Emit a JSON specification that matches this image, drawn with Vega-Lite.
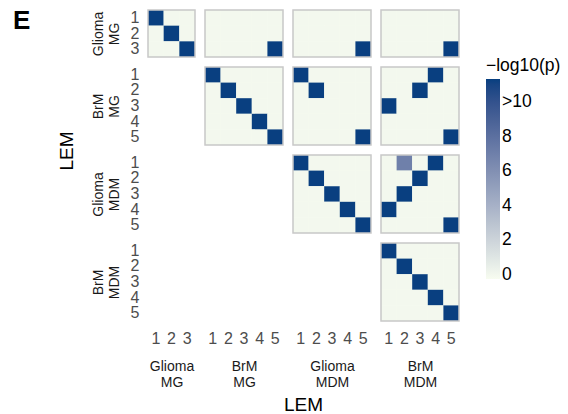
{
"$schema": "https://vega.github.io/schema/vega-lite/v6.json",
"padding": {"left": 12, "top": 7, "right": 5, "bottom": 5},
"datasets": {
"GMG_GMG": [{"i":1,"j":1,"v":11.3},{"i":1,"j":2,"v":0},{"i":1,"j":3,"v":0},{"i":2,"j":1,"v":0},{"i":2,"j":2,"v":11.3},{"i":2,"j":3,"v":0},{"i":3,"j":1,"v":0},{"i":3,"j":2,"v":0},{"i":3,"j":3,"v":11.3}],
"GMG_BMG": [{"i":1,"j":1,"v":0},{"i":1,"j":2,"v":0},{"i":1,"j":3,"v":0},{"i":1,"j":4,"v":0},{"i":1,"j":5,"v":0},{"i":2,"j":1,"v":0},{"i":2,"j":2,"v":0},{"i":2,"j":3,"v":0},{"i":2,"j":4,"v":0},{"i":2,"j":5,"v":0},{"i":3,"j":1,"v":0},{"i":3,"j":2,"v":0},{"i":3,"j":3,"v":0},{"i":3,"j":4,"v":0},{"i":3,"j":5,"v":11.3}],
"GMG_GMDM": [{"i":1,"j":1,"v":0},{"i":1,"j":2,"v":0},{"i":1,"j":3,"v":0},{"i":1,"j":4,"v":0},{"i":1,"j":5,"v":0},{"i":2,"j":1,"v":0},{"i":2,"j":2,"v":0},{"i":2,"j":3,"v":0},{"i":2,"j":4,"v":0},{"i":2,"j":5,"v":0},{"i":3,"j":1,"v":0},{"i":3,"j":2,"v":0},{"i":3,"j":3,"v":0},{"i":3,"j":4,"v":0},{"i":3,"j":5,"v":11.3}],
"GMG_BMDM": [{"i":1,"j":1,"v":0},{"i":1,"j":2,"v":0},{"i":1,"j":3,"v":0},{"i":1,"j":4,"v":0},{"i":1,"j":5,"v":0},{"i":2,"j":1,"v":0},{"i":2,"j":2,"v":0},{"i":2,"j":3,"v":0},{"i":2,"j":4,"v":0},{"i":2,"j":5,"v":0},{"i":3,"j":1,"v":0},{"i":3,"j":2,"v":0},{"i":3,"j":3,"v":0},{"i":3,"j":4,"v":0},{"i":3,"j":5,"v":11.3}],
"BMG_BMG": [{"i":1,"j":1,"v":11.3},{"i":1,"j":2,"v":0},{"i":1,"j":3,"v":0},{"i":1,"j":4,"v":0},{"i":1,"j":5,"v":0},{"i":2,"j":1,"v":0},{"i":2,"j":2,"v":11.3},{"i":2,"j":3,"v":0},{"i":2,"j":4,"v":0},{"i":2,"j":5,"v":0},{"i":3,"j":1,"v":0},{"i":3,"j":2,"v":0},{"i":3,"j":3,"v":11.3},{"i":3,"j":4,"v":0},{"i":3,"j":5,"v":0},{"i":4,"j":1,"v":0},{"i":4,"j":2,"v":0},{"i":4,"j":3,"v":0},{"i":4,"j":4,"v":11.3},{"i":4,"j":5,"v":0},{"i":5,"j":1,"v":0},{"i":5,"j":2,"v":0},{"i":5,"j":3,"v":0},{"i":5,"j":4,"v":0},{"i":5,"j":5,"v":11.3}],
"BMG_GMDM": [{"i":1,"j":1,"v":11.3},{"i":1,"j":2,"v":0},{"i":1,"j":3,"v":0},{"i":1,"j":4,"v":0},{"i":1,"j":5,"v":0},{"i":2,"j":1,"v":0},{"i":2,"j":2,"v":11.3},{"i":2,"j":3,"v":0},{"i":2,"j":4,"v":0},{"i":2,"j":5,"v":0},{"i":3,"j":1,"v":0},{"i":3,"j":2,"v":0},{"i":3,"j":3,"v":0},{"i":3,"j":4,"v":0},{"i":3,"j":5,"v":0},{"i":4,"j":1,"v":0},{"i":4,"j":2,"v":0},{"i":4,"j":3,"v":0},{"i":4,"j":4,"v":0},{"i":4,"j":5,"v":0},{"i":5,"j":1,"v":0},{"i":5,"j":2,"v":0},{"i":5,"j":3,"v":0},{"i":5,"j":4,"v":0},{"i":5,"j":5,"v":11.3}],
"BMG_BMDM": [{"i":1,"j":1,"v":0},{"i":1,"j":2,"v":0},{"i":1,"j":3,"v":0},{"i":1,"j":4,"v":11.3},{"i":1,"j":5,"v":0},{"i":2,"j":1,"v":0},{"i":2,"j":2,"v":0},{"i":2,"j":3,"v":11.3},{"i":2,"j":4,"v":0},{"i":2,"j":5,"v":0},{"i":3,"j":1,"v":11.3},{"i":3,"j":2,"v":0},{"i":3,"j":3,"v":0},{"i":3,"j":4,"v":0},{"i":3,"j":5,"v":0},{"i":4,"j":1,"v":0},{"i":4,"j":2,"v":0},{"i":4,"j":3,"v":0},{"i":4,"j":4,"v":0},{"i":4,"j":5,"v":0},{"i":5,"j":1,"v":0},{"i":5,"j":2,"v":0},{"i":5,"j":3,"v":0},{"i":5,"j":4,"v":0},{"i":5,"j":5,"v":11.3}],
"GMDM_GMDM": [{"i":1,"j":1,"v":11.3},{"i":1,"j":2,"v":0},{"i":1,"j":3,"v":0},{"i":1,"j":4,"v":0},{"i":1,"j":5,"v":0},{"i":2,"j":1,"v":0},{"i":2,"j":2,"v":11.3},{"i":2,"j":3,"v":0},{"i":2,"j":4,"v":0},{"i":2,"j":5,"v":0},{"i":3,"j":1,"v":0},{"i":3,"j":2,"v":0},{"i":3,"j":3,"v":11.3},{"i":3,"j":4,"v":0},{"i":3,"j":5,"v":0},{"i":4,"j":1,"v":0},{"i":4,"j":2,"v":0},{"i":4,"j":3,"v":0},{"i":4,"j":4,"v":11.3},{"i":4,"j":5,"v":0},{"i":5,"j":1,"v":0},{"i":5,"j":2,"v":0},{"i":5,"j":3,"v":0},{"i":5,"j":4,"v":0},{"i":5,"j":5,"v":11.3}],
"GMDM_BMDM": [{"i":1,"j":1,"v":0},{"i":1,"j":2,"v":7},{"i":1,"j":3,"v":0},{"i":1,"j":4,"v":11.3},{"i":1,"j":5,"v":0},{"i":2,"j":1,"v":0},{"i":2,"j":2,"v":0},{"i":2,"j":3,"v":11.3},{"i":2,"j":4,"v":0},{"i":2,"j":5,"v":0},{"i":3,"j":1,"v":0},{"i":3,"j":2,"v":11.3},{"i":3,"j":3,"v":0},{"i":3,"j":4,"v":0},{"i":3,"j":5,"v":0},{"i":4,"j":1,"v":11.3},{"i":4,"j":2,"v":0},{"i":4,"j":3,"v":0},{"i":4,"j":4,"v":0},{"i":4,"j":5,"v":0},{"i":5,"j":1,"v":0},{"i":5,"j":2,"v":0},{"i":5,"j":3,"v":0},{"i":5,"j":4,"v":0},{"i":5,"j":5,"v":11.3}],
"BMDM_BMDM": [{"i":1,"j":1,"v":11.3},{"i":1,"j":2,"v":0},{"i":1,"j":3,"v":0},{"i":1,"j":4,"v":0},{"i":1,"j":5,"v":0},{"i":2,"j":1,"v":0},{"i":2,"j":2,"v":11.3},{"i":2,"j":3,"v":0},{"i":2,"j":4,"v":0},{"i":2,"j":5,"v":0},{"i":3,"j":1,"v":0},{"i":3,"j":2,"v":0},{"i":3,"j":3,"v":11.3},{"i":3,"j":4,"v":0},{"i":3,"j":5,"v":0},{"i":4,"j":1,"v":0},{"i":4,"j":2,"v":0},{"i":4,"j":3,"v":0},{"i":4,"j":4,"v":11.3},{"i":4,"j":5,"v":0},{"i":5,"j":1,"v":0},{"i":5,"j":2,"v":0},{"i":5,"j":3,"v":0},{"i":5,"j":4,"v":0},{"i":5,"j":5,"v":11.3}]
},
"config": {
 "font": "Liberation Sans",
 "view": {"stroke": "#c8c8c8", "strokeWidth": 1.5, "fill": "#f7fcf0"},
 "style": {"cell": {"strokeForeground": true}},
 "axis": {"ticks": false, "domain": false, "grid": false, "labelFontSize": 16, "labelColor": "#4d4d4d", "titleFontSize": 14, "titleFontWeight": "normal", "titleColor": "#1a1a1a", "titleLineHeight": 16},
 "title": {"fontWeight": "normal", "color": "black", "fontSize": 19},
 "legend": {"orient": "none", "legendX": 338, "legendY": 47, "direction": "vertical", "gradientLength": 200, "gradientThickness": 14, "gradientStrokeWidth": 0, "titleFontSize": 17.5, "titleFontWeight": "normal", "titleColor": "black", "labelFontSize": 17.5, "labelColor": "black", "labelOffset": 9, "titlePadding": 4.5}
},
"columns": 4,
"spacing": 10,
"bounds": "flush",
"concat": [
 {"width": 47, "height": 47, "data": {"name": "GMG_GMG"}, "mark": "rect",
  "title": {"text": "E", "orient": "top", "anchor": "start", "frame": "group", "baseline": "top", "offset": -25, "dx": -135, "fontSize": 26, "fontWeight": "bold"},
  "encoding": {
   "x": {"field": "j", "type": "ordinal", "scale": {"domain": [1,2,3], "padding": 0}, "axis": null},
   "y": {"field": "i", "type": "ordinal", "scale": {"domain": [1,2,3], "padding": 0}, "axis": {"title": ["Glioma","MG"], "labelPadding": 9, "titlePadding": 9}},
   "color": {"field": "v", "type": "quantitative", "title": "−log10(p)", "scale": {"domain": [-0.23, 11.33], "range": ["#f7fcf0", "#073f80"], "interpolate": "lab", "clamp": true}, "legend": {"values": [0,2,4,6,8,10], "labelExpr": "datum.value == 10 ? '>10' : datum.label"}}}},
 {"width": 78, "height": 47, "data": {"name": "GMG_BMG"}, "mark": "rect", "encoding": {
   "x": {"field": "j", "type": "ordinal", "scale": {"domain": [1,2,3,4,5], "padding": 0}, "axis": null},
   "y": {"field": "i", "type": "ordinal", "scale": {"domain": [1,2,3], "padding": 0}, "axis": null},
   "color": {"field": "v", "type": "quantitative", "title": "−log10(p)", "scale": {"domain": [-0.23, 11.33], "range": ["#f7fcf0", "#073f80"], "interpolate": "lab", "clamp": true}, "legend": {"values": [0,2,4,6,8,10], "labelExpr": "datum.value == 10 ? '>10' : datum.label"}}}},
 {"width": 78, "height": 47, "data": {"name": "GMG_GMDM"}, "mark": "rect", "encoding": {
   "x": {"field": "j", "type": "ordinal", "scale": {"domain": [1,2,3,4,5], "padding": 0}, "axis": null},
   "y": {"field": "i", "type": "ordinal", "scale": {"domain": [1,2,3], "padding": 0}, "axis": null},
   "color": {"field": "v", "type": "quantitative", "title": "−log10(p)", "scale": {"domain": [-0.23, 11.33], "range": ["#f7fcf0", "#073f80"], "interpolate": "lab", "clamp": true}, "legend": {"values": [0,2,4,6,8,10], "labelExpr": "datum.value == 10 ? '>10' : datum.label"}}}},
 {"width": 78, "height": 47, "data": {"name": "GMG_BMDM"}, "mark": "rect", "encoding": {
   "x": {"field": "j", "type": "ordinal", "scale": {"domain": [1,2,3,4,5], "padding": 0}, "axis": null},
   "y": {"field": "i", "type": "ordinal", "scale": {"domain": [1,2,3], "padding": 0}, "axis": null},
   "color": {"field": "v", "type": "quantitative", "title": "−log10(p)", "scale": {"domain": [-0.23, 11.33], "range": ["#f7fcf0", "#073f80"], "interpolate": "lab", "clamp": true}, "legend": {"values": [0,2,4,6,8,10], "labelExpr": "datum.value == 10 ? '>10' : datum.label"}}}},

 {"width": 47, "height": 78, "view": {"stroke": null, "fill": null}, "data": {"values": []}, "mark": "rect",
  "title": {"text": "LEM", "orient": "left", "anchor": "middle", "frame": "group", "offset": 14, "dx": -45},
  "encoding": {
   "x": {"field": "j", "type": "ordinal", "scale": {"domain": [1,2,3], "padding": 0}, "axis": null},
   "y": {"field": "i", "type": "ordinal", "scale": {"domain": [1,2,3,4,5], "padding": 0}, "axis": {"title": ["BrM","MG"], "labelPadding": 9, "titlePadding": 9}}}},
 {"width": 78, "height": 78, "data": {"name": "BMG_BMG"}, "mark": "rect", "encoding": {
   "x": {"field": "j", "type": "ordinal", "scale": {"domain": [1,2,3,4,5], "padding": 0}, "axis": null},
   "y": {"field": "i", "type": "ordinal", "scale": {"domain": [1,2,3,4,5], "padding": 0}, "axis": null},
   "color": {"field": "v", "type": "quantitative", "title": "−log10(p)", "scale": {"domain": [-0.23, 11.33], "range": ["#f7fcf0", "#073f80"], "interpolate": "lab", "clamp": true}, "legend": {"values": [0,2,4,6,8,10], "labelExpr": "datum.value == 10 ? '>10' : datum.label"}}}},
 {"width": 78, "height": 78, "data": {"name": "BMG_GMDM"}, "mark": "rect", "encoding": {
   "x": {"field": "j", "type": "ordinal", "scale": {"domain": [1,2,3,4,5], "padding": 0}, "axis": null},
   "y": {"field": "i", "type": "ordinal", "scale": {"domain": [1,2,3,4,5], "padding": 0}, "axis": null},
   "color": {"field": "v", "type": "quantitative", "title": "−log10(p)", "scale": {"domain": [-0.23, 11.33], "range": ["#f7fcf0", "#073f80"], "interpolate": "lab", "clamp": true}, "legend": {"values": [0,2,4,6,8,10], "labelExpr": "datum.value == 10 ? '>10' : datum.label"}}}},
 {"width": 78, "height": 78, "data": {"name": "BMG_BMDM"}, "mark": "rect", "encoding": {
   "x": {"field": "j", "type": "ordinal", "scale": {"domain": [1,2,3,4,5], "padding": 0}, "axis": null},
   "y": {"field": "i", "type": "ordinal", "scale": {"domain": [1,2,3,4,5], "padding": 0}, "axis": null},
   "color": {"field": "v", "type": "quantitative", "title": "−log10(p)", "scale": {"domain": [-0.23, 11.33], "range": ["#f7fcf0", "#073f80"], "interpolate": "lab", "clamp": true}, "legend": {"values": [0,2,4,6,8,10], "labelExpr": "datum.value == 10 ? '>10' : datum.label"}}}},

 {"width": 47, "height": 78, "view": {"stroke": null, "fill": null}, "data": {"values": []}, "mark": "rect", "encoding": {
   "x": {"field": "j", "type": "ordinal", "scale": {"domain": [1,2,3], "padding": 0}, "axis": null},
   "y": {"field": "i", "type": "ordinal", "scale": {"domain": [1,2,3,4,5], "padding": 0}, "axis": {"title": ["Glioma","MDM"], "labelPadding": 9, "titlePadding": 9}}}},
 {"width": 78, "height": 78, "view": {"stroke": null, "fill": null}, "data": {"values": []}, "mark": "rect", "encoding": {
   "x": {"field": "j", "type": "ordinal", "scale": {"domain": [1,2,3,4,5], "padding": 0}, "axis": null},
   "y": {"field": "i", "type": "ordinal", "scale": {"domain": [1,2,3,4,5], "padding": 0}, "axis": null}}},
 {"width": 78, "height": 78, "data": {"name": "GMDM_GMDM"}, "mark": "rect", "encoding": {
   "x": {"field": "j", "type": "ordinal", "scale": {"domain": [1,2,3,4,5], "padding": 0}, "axis": null},
   "y": {"field": "i", "type": "ordinal", "scale": {"domain": [1,2,3,4,5], "padding": 0}, "axis": null},
   "color": {"field": "v", "type": "quantitative", "title": "−log10(p)", "scale": {"domain": [-0.23, 11.33], "range": ["#f7fcf0", "#073f80"], "interpolate": "lab", "clamp": true}, "legend": {"values": [0,2,4,6,8,10], "labelExpr": "datum.value == 10 ? '>10' : datum.label"}}}},
 {"width": 78, "height": 78, "data": {"name": "GMDM_BMDM"}, "mark": "rect", "encoding": {
   "x": {"field": "j", "type": "ordinal", "scale": {"domain": [1,2,3,4,5], "padding": 0}, "axis": null},
   "y": {"field": "i", "type": "ordinal", "scale": {"domain": [1,2,3,4,5], "padding": 0}, "axis": null},
   "color": {"field": "v", "type": "quantitative", "title": "−log10(p)", "scale": {"domain": [-0.23, 11.33], "range": ["#f7fcf0", "#073f80"], "interpolate": "lab", "clamp": true}, "legend": {"values": [0,2,4,6,8,10], "labelExpr": "datum.value == 10 ? '>10' : datum.label"}}}},

 {"width": 47, "height": 78, "view": {"stroke": null, "fill": null}, "data": {"values": []}, "mark": "rect", "encoding": {
   "x": {"field": "j", "type": "ordinal", "scale": {"domain": [1,2,3], "padding": 0}, "axis": {"title": ["Glioma","MG"], "labelAngle": 0, "labelPadding": 9, "titlePadding": 13}},
   "y": {"field": "i", "type": "ordinal", "scale": {"domain": [1,2,3,4,5], "padding": 0}, "axis": {"title": ["BrM","MDM"], "labelPadding": 9, "titlePadding": 9}}}},
 {"width": 78, "height": 78, "view": {"stroke": null, "fill": null}, "data": {"values": []}, "mark": "rect",
  "title": {"text": "LEM", "orient": "bottom", "anchor": "middle", "frame": "group", "baseline": "top", "offset": 7, "dx": 59.5},
  "encoding": {
   "x": {"field": "j", "type": "ordinal", "scale": {"domain": [1,2,3,4,5], "padding": 0}, "axis": {"title": ["BrM","MG"], "labelAngle": 0, "labelPadding": 9, "titlePadding": 13}},
   "y": {"field": "i", "type": "ordinal", "scale": {"domain": [1,2,3,4,5], "padding": 0}, "axis": null}}},
 {"width": 78, "height": 78, "view": {"stroke": null, "fill": null}, "data": {"values": []}, "mark": "rect", "encoding": {
   "x": {"field": "j", "type": "ordinal", "scale": {"domain": [1,2,3,4,5], "padding": 0}, "axis": {"title": ["Glioma","MDM"], "labelAngle": 0, "labelPadding": 9, "titlePadding": 13}},
   "y": {"field": "i", "type": "ordinal", "scale": {"domain": [1,2,3,4,5], "padding": 0}, "axis": null}}},
 {"width": 78, "height": 78, "data": {"name": "BMDM_BMDM"}, "mark": "rect", "encoding": {
   "x": {"field": "j", "type": "ordinal", "scale": {"domain": [1,2,3,4,5], "padding": 0}, "axis": {"title": ["BrM","MDM"], "labelAngle": 0, "labelPadding": 9, "titlePadding": 13}},
   "y": {"field": "i", "type": "ordinal", "scale": {"domain": [1,2,3,4,5], "padding": 0}, "axis": null},
   "color": {"field": "v", "type": "quantitative", "title": "−log10(p)", "scale": {"domain": [-0.23, 11.33], "range": ["#f7fcf0", "#073f80"], "interpolate": "lab", "clamp": true}, "legend": {"values": [0,2,4,6,8,10], "labelExpr": "datum.value == 10 ? '>10' : datum.label"}}}}
]
}
